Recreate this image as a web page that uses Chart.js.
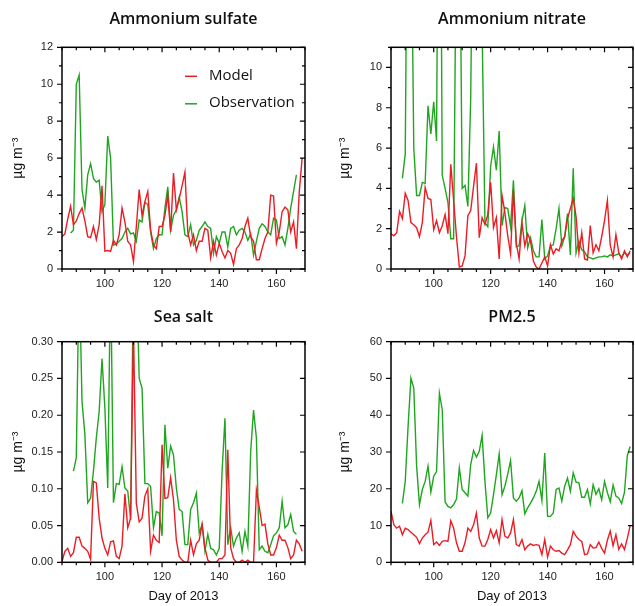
<!DOCTYPE html>
<html>
<head>
<meta charset="utf-8">
<script src="https://cdn.jsdelivr.net/npm/chart.js@4.4.1/dist/chart.umd.min.js"></script>
<style>
  html, body { margin: 0; padding: 0; background: #fff; }
  #wrap { position: relative; width: 635px; height: 606px; }
  .panel { position: absolute; }
</style>
</head>
<body>
<div id="wrap">
  <div class="panel" style="left:0;top:0;width:317px;height:303px"><canvas id="cSulfate"></canvas></div>
  <div class="panel" style="left:317px;top:0;width:318px;height:303px"><canvas id="cNitrate"></canvas></div>
  <div class="panel" style="left:0;top:303px;width:317px;height:303px"><canvas id="cSeaSalt"></canvas></div>
  <div class="panel" style="left:317px;top:303px;width:318px;height:303px"><canvas id="cPM"></canvas></div>
</div>
<script>
// Días (día del año 2013) y marcas del eje x
const firstDay   = 85;
const xTickDays  = [100, 120, 140, 160];

// Marcas del eje y de cada panel
const sulfateTicks = [0, 2, 4, 6, 8, 10, 12];
const nitrateTicks = [0, 2, 4, 6, 8, 10];
const seaSaltTicks = [0, 0.05, 0.10, 0.15, 0.20, 0.25, 0.30];
const pmTicks      = [0, 10, 20, 30, 40, 50, 60];

// Ammonium sulfate (modelo desde el día 85, observación desde el día 88)
const sulfateModel = [1.75, 1.9, 2.7, 3.4, 2.4, 2.6, 3.0, 3.3, 2.6, 1.75,
    1.7, 2.3, 1.6, 2.4, 4.5, 0.97, 1.0, 0.95, 1.55, 1.3,
    1.85, 3.3, 2.55, 1.5, 1.3, 0.4, 2.3, 4.3, 2.9, 3.65,
    4.2, 2.1, 1.3, 1.1, 2.3, 2.3, 2.9, 4.0, 2.0, 5.2,
    3.2, 3.8, 4.5, 5.25, 2.0, 1.3, 1.85, 1.0, 1.5, 1.5,
    2.2, 2.1, 0.6, 1.5, 0.75, 1.4, 0.95, 0.6, 1.0, 0.85,
    0.25, 1.1, 1.3, 1.65, 2.3, 2.75, 1.75, 1.5, 0.5, 0.5,
    1.1, 1.65, 2.0, 4.0, 3.95, 1.4, 2.0, 3.1, 3.35, 3.2,
    2.0, 2.55, 1.1, 4.2, 6.0];
const sulfateObsStart = 88;
const sulfateObs = [1.95, 2.1, 10.0, 10.5, 4.3, 3.3, 5.1, 5.7, 4.9, 4.7,
    4.8, 3.1, 3.5, 7.2, 6.0, 1.3, 1.35, 1.5, 1.65, 2.0,
    2.2, 1.9, 1.95, 1.5, 2.65, 2.55, 3.6, 3.5, 2.0, 1.1,
    1.65, 1.85, 1.85, 3.3, 4.45, 2.1, 2.9, 3.2, 3.9, 3.1,
    1.85, 1.75, 2.4, 1.3, 1.55, 2.1, 2.3, 2.55, 2.3, 2.2,
    0.85, 1.75, 1.4, 2.0, 2.0, 1.2, 2.2, 2.3, 1.85, 2.1,
    2.2, 2.0, 1.55, 1.9, 0.75, 1.5, 2.2, 2.45, 2.3, 2.0,
    1.85, 2.75, 2.65, 1.65, 1.75, 1.3, 2.2, 3.3, 4.2, 5.1];

// Ammonium nitrate
const nitrateModel = [1.75, 1.65, 1.8, 2.85, 2.5, 3.75, 3.4, 2.3, 2.2, 2.05,
    1.6, 2.3, 4.05, 3.5, 3.45, 1.95, 2.4, 1.8, 2.15, 2.7,
    1.75, 5.2, 3.4, 1.6, 0.1, 0.15, 0.65, 2.65, 2.9, 4.1,
    5.25, 1.55, 2.55, 2.2, 2.7, 4.3, 2.05, 2.55, 0.5, 3.65,
    2.8, 1.65, 0.75, 3.9, 1.3, 0.5, 2.3, 1.15, 1.75, 1.4,
    0.4, 0.1, 0.0, 0.3, 0.6, 0.15, 1.2, 0.75, 1.0, 0.9,
    1.4, 1.6, 2.5, 3.0, 3.5, 2.6, 0.8, 1.8, 0.5, 0.45,
    2.15, 0.8, 1.2, 0.9, 1.6, 2.4, 3.4, 1.2, 0.6, 1.7,
    0.8, 0.5, 0.9, 0.6, 0.9];
const nitrateObsStart = 89;
const nitrateObs = [4.5, 5.7, 24, 19, 6.0, 3.65, 3.65, 4.3, 4.25, 8.1,
    6.7, 8.3, 6.35, 30, 4.65, 4.0, 3.3, 1.5, 1.5, 18,
    20, 4.0, 4.15, 3.1, 8.5, 22, 25, 22, 12, 2.3,
    2.1, 5.1, 6.05, 4.9, 6.85, 2.15, 3.05, 3.0, 2.1, 4.4,
    1.1, 1.15, 2.4, 3.15, 1.05, 1.55, 0.9, 0.6, 0.6, 2.45,
    0.5, 0.65, 1.15, 1.2, 2.0, 3.0, 1.15, 1.6, 2.75, 0.7,
    5.0, 0.8, 1.4, 0.95, 0.85, 0.6, 0.55, 0.5, 0.55, 0.6,
    0.6, 0.65, 0.6, 0.7, 0.65, 0.7, 0.75, 0.6, 0.8, 0.7, 0.8];

// Sea salt
const seaSaltModel = [0.001, 0.015, 0.019, 0.008, 0.013, 0.034, 0.034, 0.022, 0.019, 0.015,
    0.004, 0.110, 0.108, 0.06, 0.033, 0.019, 0.01, 0.028, 0.029, 0.008,
    0.005, 0.022, 0.093, 0.047, 0.06, 0.32, 0.08, 0.055, 0.06, 0.09,
    0.10, 0.015, 0.037, 0.03, 0.027, 0.16, 0.087, 0.088, 0.115, 0.085,
    0.03, 0.008, 0.003, 0.0, 0.0, 0.03, 0.01, 0.025, 0.03, 0.052,
    0.02, 0.003, 0.0, 0.0, 0.0, 0.005, 0.005, 0.01, 0.153, 0.02,
    0.005, 0.0, 0.0, 0.003, 0.0, 0.003, 0.0, 0.0, 0.098, 0.075,
    0.05, 0.052, 0.025, 0.01, 0.01, 0.02, 0.037, 0.03, 0.03, 0.02,
    0.005, 0.01, 0.03, 0.025, 0.015];
const seaSaltObsStart = 89;
const seaSaltObs = [0.124, 0.142, 0.40, 0.219, 0.174, 0.081, 0.087, 0.124, 0.169, 0.205,
    0.277, 0.21, 0.101, 0.40, 0.081, 0.107, 0.106, 0.13, 0.101, 0.097,
    0.058, 0.40, 0.40, 0.25, 0.237, 0.107, 0.107, 0.103, 0.047, 0.069,
    0.067, 0.036, 0.187, 0.128, 0.158, 0.146, 0.101, 0.072, 0.069, 0.024,
    0.024, 0.072, 0.081, 0.094, 0.04, 0.051, 0.015, 0.038, 0.019, 0.017,
    0.01, 0.019, 0.124, 0.196, 0.024, 0.047, 0.022, 0.033, 0.04, 0.015,
    0.042, 0.022, 0.151, 0.207, 0.169, 0.017, 0.022, 0.015, 0.013, 0.024,
    0.036, 0.04, 0.047, 0.083, 0.047, 0.051, 0.065, 0.042, 0.038];

// PM2.5
const pmModel = [13.9, 10.2, 9.3, 9.8, 7.5, 9.3, 8.9, 8.2, 7.5, 6.8,
    5.1, 6.6, 7.5, 8.2, 11.4, 4.8, 5.5, 4.6, 5.7, 5.9,
    5.7, 11.3, 9.3, 5.3, 3.0, 3.0, 5.3, 9.3, 8.4, 10.2,
    13.4, 6.6, 4.4, 4.4, 6.2, 8.9, 6.6, 8.6, 5.3, 11.6,
    7.1, 6.6, 8.0, 11.6, 4.8, 4.4, 6.2, 3.4, 4.4, 5.0,
    4.6, 4.8, 4.6, 2.1, 6.2, 1.4, 4.4, 3.4, 3.0, 3.2,
    2.5, 2.1, 3.4, 4.8, 8.4, 7.1, 6.2, 5.7, 2.1, 2.3,
    4.8, 3.9, 4.0, 5.5, 3.8, 2.5, 6.0, 8.5, 4.5, 7.5,
    3.5, 5.0, 3.5, 6.5, 10.0];
const pmObsStart = 89;
const pmObs = [16.0, 22.0, 37, 50.1, 47.4, 26.1, 15.7, 19.8, 22.0, 26.1,
    19.1, 23.4, 24.7, 46.0, 41.5, 16.4, 15.2, 14.8, 15.7, 17.2,
    25.7, 19.8, 18.9, 18.0, 26.6, 30.4, 28.6, 30.2, 34.5, 22.0,
    12.1, 13.4, 18.4, 23.8, 29.5, 18.4, 20.7, 24.0, 27.7, 17.5,
    16.6, 17.5, 19.5, 13.2, 14.8, 16.1, 17.5, 19.3, 22.0, 16.8,
    29.7, 12.5, 12.5, 13.4, 19.8, 20.2, 16.6, 20.7, 22.9, 19.3,
    24.3, 21.8, 21.6, 17.7, 17.7, 19.8, 15.9, 21.1, 18.5, 20.0,
    17.0, 22.0, 19.0, 16.5, 21.0, 18.0, 17.5, 16.0, 19.0, 29.0, 31.5];

const ROJO  = '#ec1c24';
const VERDE = '#1fa51f';

// Convertir una serie diaria en puntos {x: día, y: valor}
function aPuntos(inicio, valores){
    return valores.map((v, i) => ({ x: inicio + i, y: v }));
}

// Marco con marcas: hacia fuera abajo/izquierda, hacia dentro arriba/derecha
const marco = {
    id: 'marco',
    afterDatasetsDraw(chart, args, o){
        const { ctx, chartArea: a } = chart;
        const sx = chart.scales.x, sy = chart.scales.y;
        const esMayor = (v, paso) => Math.abs(v / paso - Math.round(v / paso)) < 1e-6;
        ctx.save();
        ctx.strokeStyle = '#000';
        ctx.lineWidth = 1.2;
        ctx.beginPath();
        for (let v = sx.min; v <= sx.max + 1e-6; v += o.xMinor){
            const p = sx.getPixelForValue(v);
            const len = esMayor(v, o.xMajor) ? 5 : 3;
            ctx.moveTo(p, a.bottom); ctx.lineTo(p, a.bottom + len);
            ctx.moveTo(p, a.top);    ctx.lineTo(p, a.top + len);
        }
        const n = Math.round((sy.max - sy.min) / o.yMinor);
        for (let k = 0; k <= n; k++){
            const v = sy.min + k * o.yMinor;
            const p = sy.getPixelForValue(v);
            const len = esMayor(v, o.yMajor) ? 5 : 3;
            ctx.moveTo(a.left, p);  ctx.lineTo(a.left - len, p);
            ctx.moveTo(a.right, p); ctx.lineTo(a.right - len, p);
        }
        ctx.stroke();
        ctx.lineWidth = 1.5;
        ctx.strokeRect(a.left, a.top, a.right - a.left, a.bottom - a.top);
        ctx.restore();
    }
};

// Leyenda dentro del área del gráfico
const leyenda = {
    id: 'leyenda',
    afterDraw(chart){
        const { ctx, chartArea: a } = chart;
        ctx.save();
        ctx.font = '15px "Open Sans"';
        ctx.textBaseline = 'middle';
        ctx.lineWidth = 1.5;
        chart.data.datasets.forEach((ds, i) => {
            const y = a.top + 28 + i * 27.5;
            ctx.strokeStyle = ds.borderColor;
            ctx.beginPath();
            ctx.moveTo(a.left + 123, y + 1);
            ctx.lineTo(a.left + 135, y + 1);
            ctx.stroke();
            ctx.fillStyle = '#111';
            ctx.fillText(ds.label, a.left + 147, y);
        });
        ctx.restore();
    }
};

const fuenteTicks = { family: 'Liberation Sans', size: 11 };

function crearPanel(id, cfg){
    const g = cfg.area;
    return new Chart(document.getElementById(id), {
        type: 'line',
        data: {
            datasets: [{
                label: 'Model',
                data: aPuntos(firstDay, cfg.model),
                borderColor: ROJO, borderWidth: 1.4,
                pointRadius: 0, tension: 0, clip: 0
            }, {
                label: 'Observation',
                data: aPuntos(cfg.obsStart, cfg.obs),
                borderColor: VERDE, borderWidth: 1.4,
                pointRadius: 0, tension: 0, clip: 0
            }]
        },
        options: {
            responsive: true,
            maintainAspectRatio: false,
            animation: false,
            layout: { padding: { left: 0, top: 0, bottom: 0, right: cfg.w - g.right } },
            plugins: {
                legend:  { display: false },
                tooltip: { enabled: false },
                title: {
                    display: true, text: cfg.title, fullSize: false,
                    color: '#111', font: { family: 'Open Sans', size: 16, weight: '600' },
                    padding: { top: cfg.titleTop, bottom: g.top - cfg.titleTop - 19.2 }
                },
                marco: { xMinor: 5, xMajor: 20, yMinor: cfg.yMinor, yMajor: cfg.yMajor }
            },
            scales: {
                x: {
                    type: 'linear', min: 85, max: 170,
                    afterBuildTicks: s => { s.ticks = xTickDays.map(v => ({ value: v })); },
                    afterFit: s => { s.height = cfg.h - g.bottom; },
                    grid:   { display: false, drawTicks: false },
                    border: { display: false },
                    ticks:  { font: fuenteTicks, color: '#222', padding: 8, maxRotation: 0, autoSkip: false },
                    title:  cfg.xTitle ? {
                        display: true, text: cfg.xTitle, color: '#111',
                        font: { family: 'Liberation Sans', size: 13 },
                        padding: { top: 0, bottom: 1.5 }
                    } : { display: false }
                },
                y: {
                    type: 'linear', min: 0, max: cfg.yMax,
                    afterBuildTicks: s => { s.ticks = cfg.yTicks.map(v => ({ value: v })); },
                    afterFit: s => { s.width = g.left; },
                    grid:   { display: false, drawTicks: false },
                    border: { display: false },
                    ticks:  {
                        font: fuenteTicks, color: '#222', padding: 9,
                        callback: v => cfg.decimals ? v.toFixed(cfg.decimals) : v
                    },
                    title: {
                        display: true, text: 'µg m⁻³', color: '#111',
                        font: { family: 'Liberation Sans', size: 14 },
                        padding: { top: cfg.yTitlePad, bottom: 0 }
                    }
                }
            }
        },
        plugins: cfg.legend ? [marco, leyenda] : [marco]
    });
}

crearPanel('cSulfate', {
    title: 'Ammonium sulfate', w: 317, h: 303,
    area: { left: 62, top: 47.3, right: 305, bottom: 269 },
    titleTop: 10, yTitlePad: 9.6,
    model: sulfateModel, obs: sulfateObs, obsStart: sulfateObsStart,
    yMax: 12, yTicks: sulfateTicks, yMinor: 1, yMajor: 2, legend: true
});

crearPanel('cNitrate', {
    title: 'Ammonium nitrate', w: 318, h: 303,
    area: { left: 74, top: 47.3, right: 316, bottom: 269 },
    titleTop: 10, yTitlePad: 19.6,
    model: nitrateModel, obs: nitrateObs, obsStart: nitrateObsStart,
    yMax: 11, yTicks: nitrateTicks, yMinor: 1, yMajor: 2
});

crearPanel('cSeaSalt', {
    title: 'Sea salt', w: 317, h: 303,
    area: { left: 62, top: 38.7, right: 305, bottom: 259.3 },
    titleTop: 4.4, yTitlePad: 9.6, xTitle: 'Day of 2013',
    model: seaSaltModel, obs: seaSaltObs, obsStart: seaSaltObsStart,
    yMax: 0.30, yTicks: seaSaltTicks, yMinor: 0.05, yMajor: 0.05, decimals: 2
});

crearPanel('cPM', {
    title: 'PM2.5', w: 318, h: 303,
    area: { left: 74, top: 38.7, right: 316, bottom: 259.3 },
    titleTop: 4.4, yTitlePad: 19.6, xTitle: 'Day of 2013',
    model: pmModel, obs: pmObs, obsStart: pmObsStart,
    yMax: 60, yTicks: pmTicks, yMinor: 10, yMajor: 10
});
</script>
</body>
</html>
